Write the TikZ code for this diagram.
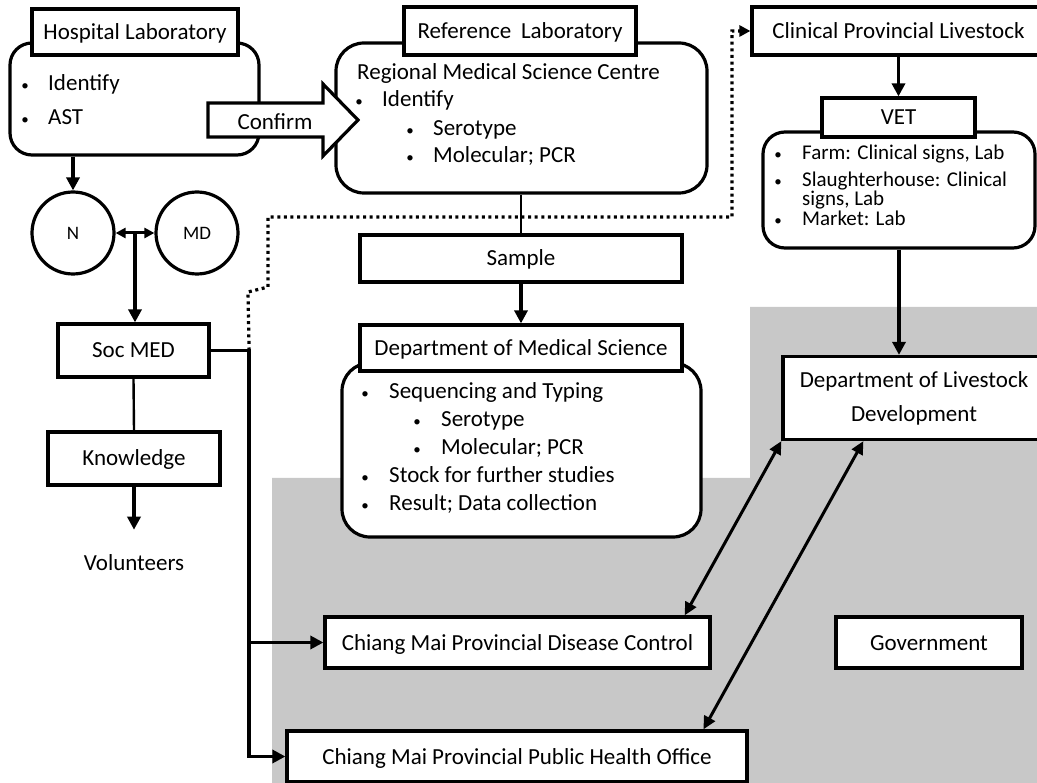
\documentclass[tikz,border=0pt]{standalone}
\usepackage{fontspec}
\setmainfont{Carlito}
\usetikzlibrary{arrows.meta,calc}
\newcommand\mainfs{\fontsize{23}{27}\selectfont}
\newcommand\vetfs{\fontsize{21}{13}\selectfont}
\newcommand\bulfs{\fontsize{15}{15}\selectfont}
\newcommand\circfs{\fontsize{19}{19}\selectfont}
\definecolor{govgray}{RGB}{200,200,200}
\begin{document}
\begin{tikzpicture}[x=1pt,y=-1pt,font=\mainfs,
  box/.style={draw,line width=3.2pt,fill=white,inner sep=0pt,text height=16pt,text depth=1pt},
  rbox/.style={draw,line width=3.2pt,fill=white,inner sep=0pt},
  li/.style={anchor=west,inner sep=0pt,text height=16pt,text depth=4pt},
  vli/.style={anchor=west,inner sep=0pt,font=\vetfs,text height=14.5pt,text depth=3.5pt},
  circ/.style={draw,circle,line width=3.2pt,fill=white,inner sep=0pt,minimum size=82pt,font=\circfs},
  thinl/.style={line width=2.4pt},
  arr/.style={line width=3.4pt,-{Triangle[length=13pt,width=13pt]}},
  darr/.style={line width=3pt,{Triangle[length=13pt,width=12pt]}-{Triangle[length=13pt,width=12pt]}},
  darrs/.style={line width=3pt,{Triangle[length=10pt,width=10pt]}-{Triangle[length=10pt,width=10pt]}},
  dotl/.style={line width=3.2pt,dash pattern=on 3pt off 3.6pt,-{Triangle[length=11pt,width=11pt]}}
]
\useasboundingbox (0,0) rectangle (1037,783);
% government background
\fill[govgray] (272,790) -- (272,478) -- (750,478) -- (750,307) -- (1045,307) -- (1045,790) -- cycle;

% Hospital laboratory
\node[rbox,rounded corners=22pt,minimum width=249pt,minimum height=112pt] (hosp) at (134.5,99) {};
\node[box,minimum width=206pt,minimum height=46pt] (hosphdr) at (135,32) {Hospital Laboratory};
\node[li] (hosp1) at (2,85) {\makebox[46pt]{\bulfs\textbullet}Identify};
\node[li] (hosp2) at (2,119) {\makebox[46pt]{\bulfs\textbullet}AST};

% Reference laboratory
\node[rbox,rounded corners=28pt,minimum width=371pt,minimum height=150pt] (ref) at (521.5,118) {};
\node[box,minimum width=232pt,minimum height=48pt] (refhdr) at (520,31) {Reference\hspace{0.2em} Laboratory};
\node[li] (ref0) at (357,74) {Regional Medical Science Centre};
\node[li] (ref1) at (336,101) {\makebox[46pt]{\bulfs\textbullet}Identify};
\node[li] (ref2) at (387,130) {\makebox[46pt]{\bulfs\textbullet}Serotype};
\node[li] (ref3) at (387,157) {\makebox[46pt]{\bulfs\textbullet}Molecular; PCR};

% Confirm arrow
\draw[line width=3.2pt,fill=white] (208,103) -- (323,103) -- (323,84) -- (358,120) -- (323,156) -- (323,137) -- (208,137) -- cycle;
\node[inner sep=0pt,text height=16pt,text depth=1pt] (confirm) at (275,122) {Confirm};

% N, MD, Soc MED, Knowledge
\node[circ] (N) at (73,233) {N};
\node[circ] (MD) at (197,233) {MD};
\node[box,minimum width=151pt,minimum height=53pt] (socmed) at (133.5,350.5) {Soc MED};
\node[box,minimum width=172pt,minimum height=53pt] (knowledge) at (134,458.5) {Knowledge};
\node[inner sep=0pt] (vol) at (134,563) {Volunteers};

% Sample and DMS
\node[box,minimum width=322pt,minimum height=47pt] (sample) at (521,258.5) {Sample};
\node[rbox,rounded corners=28pt,minimum width=359pt,minimum height=174pt] (dms) at (521.5,450) {};
\node[box,minimum width=322pt,minimum height=46pt] (dmshdr) at (521,348) {Department of Medical Science};
\node[li] (dms1) at (341,393) {\makebox[48pt]{\bulfs\textbullet}Sequencing and Typing};
\node[li] (dms2) at (393,421) {\makebox[48pt]{\bulfs\textbullet}Serotype};
\node[li] (dms3) at (393,449) {\makebox[48pt]{\bulfs\textbullet}Molecular; PCR};
\node[li] (dms4) at (341,477) {\makebox[48pt]{\bulfs\textbullet}Stock for further studies};
\node[li] (dms5) at (341,505) {\makebox[48pt]{\bulfs\textbullet}Result; Data collection};

% Livestock side
\node[box,minimum width=293pt,minimum height=48pt] (clinical) at (898.5,31) {Clinical Provincial Livestock};
\node[rbox,rounded corners=22pt,minimum width=272pt,minimum height=116pt] (vet) at (899,190) {};
\node[box,minimum width=153pt,minimum height=39pt] (vethdr) at (898.5,117.5) {VET};
\node[vli] (vet1) at (754,154.5) {\makebox[48pt]{\bulfs\textbullet}Farm: Clinical signs, Lab};
\node[anchor=north west,inner sep=0pt,align=left,font=\vetfs] (vet2) at (754,172) {\makebox[48pt]{\bulfs\textbullet}Slaughterhouse: Clinical\\\hspace*{48pt}signs, Lab};
\node[vli] (vet3) at (754,220.5) {\makebox[48pt]{\bulfs\textbullet}Market: Lab};
\node[draw,line width=3.2pt,fill=white,inner sep=0pt,minimum width=262pt,minimum height=83pt,align=center,font=\fontsize{23}{34}\selectfont] (dld) at (914,398) {Department of Livestock\\Development};

% Government boxes
\node[box,minimum width=385pt,minimum height=51pt] (dc) at (517.5,642.5) {Chiang Mai Provincial Disease Control};
\node[box,minimum width=186pt,minimum height=51pt] (gov) at (929,642.5) {Government};
\node[box,minimum width=460pt,minimum height=51pt] (ph) at (517,756.5) {Chiang Mai Provincial Public Health Office};

% dotted connector
\coordinate (bus) at ($(socmed.east)+(38.5,0)$);
\coordinate (dk) at (732,217);
\draw[dotl] (bus) -- (248,292) -- (268,287) -- (268,217) -- (dk) -- (dk |- clinical.west) -- (clinical.west);

% connectors
\draw[arr] (N.north |- hosp.south) -- (N.north);
\draw[darrs] (N.east) -- (MD.west);
\coordinate (nm) at ($(N.east)!0.5!(MD.west)$);
\draw[arr] (nm) -- (nm |- socmed.north);
\draw[thinl] (socmed.south) -- (knowledge.north);
\draw[arr,shorten >=25pt] (knowledge.south) -- (vol.north);
\draw[arr] (socmed.east) -- (bus) |- (ph.west);
\draw[arr] (bus |- dc.west) -- (dc.west);
\draw[thinl] (sample.north |- ref.south) -- (sample.north);
\draw[arr] (sample.south) -- (dmshdr.north);
\draw[arr] (vethdr.north |- clinical.south) -- (vethdr.north);
\draw[arr] (vet.south) -- (vet.south |- dld.north);
\draw[darr] (dld.south west) -- ($(dc.north east)+(-27,0)$);
\draw[darr] ($(dld.south west)+(82,0)$) -- ($(ph.north west)+(418,0)$);
\end{tikzpicture}
\end{document}
